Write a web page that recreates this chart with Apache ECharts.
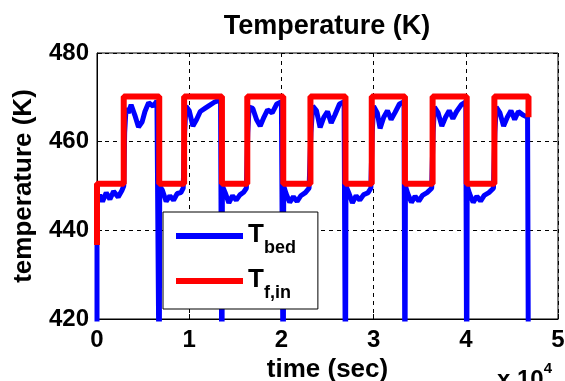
<!DOCTYPE html>
<html>
<head>
<meta charset="utf-8">
<script src="https://cdn.jsdelivr.net/npm/echarts@6/dist/echarts.min.js"></script>
<style>
  html, body { margin: 0; padding: 0; background: #fff; }
  #chart { width: 565px; height: 381px; }
</style>
</head>
<body>
<div id="chart"></div>
<script>
// x ticks in units of 1e4 s
const xTicks = [0, 1, 2, 3, 4, 5];
const yTicks = [420, 440, 460, 480];

// inlet fluid temperature, square wave [time s, K]
const tfIn = [
  [0, 436.7], [0, 450.5], [2900, 450.5], [2900, 470.2], [6750, 470.2], [6750, 450.5],
  [9450, 450.5], [9450, 470.2], [13550, 470.2], [13550, 450.5],
  [16300, 450.5], [16300, 470.2], [20200, 470.2], [20200, 450.5],
  [23150, 450.5], [23150, 470.2], [26950, 470.2], [26950, 450.5],
  [29800, 450.5], [29800, 470.2], [33400, 470.2], [33400, 450.5],
  [36400, 450.5], [36400, 470.2], [40100, 470.2], [40100, 450.5],
  [43100, 450.5], [43100, 470.2], [46800, 470.2], [46800, 465.5]
];

// bed temperature [time s, K]
const tBed = [
  [0, 405], [0, 446], [300, 448], [600, 446.5], [1000, 448.5], [1400, 447], [1800, 448.8], [2300, 447.5], [2700, 449], [2900, 450],
  [3000, 462], [3150, 467.5], [3400, 466.5], [3700, 468.3], [4100, 466], [4500, 463.3], [4900, 464.5], [5200, 466.8], [5600, 468.8], [6100, 468], [6500, 469.2], [6700, 469.5],
  [6750, 400], [6800, 450], [7100, 449], [7500, 446.5], [7900, 447.8], [8300, 446.8], [8700, 448.3], [9100, 448.5], [9350, 449.5],
  [9500, 462], [9650, 468], [10000, 467], [10400, 463.5], [10800, 465], [11200, 466.8], [11700, 467.5], [12200, 468.2], [12800, 469], [13400, 469.4],
  [13550, 400], [13600, 450], [13900, 448.5], [14300, 446.2], [14700, 447.8], [15100, 446.8], [15500, 448], [15900, 448.6], [16200, 449.5],
  [16350, 462], [16500, 467.8], [16900, 467.5], [17300, 465], [17700, 463.5], [18100, 465.5], [18500, 467.2], [19000, 466.5], [19500, 468.5], [20000, 469],
  [20200, 400], [20250, 450], [20500, 448.3], [20900, 446.3], [21300, 447.6], [21700, 446.5], [22100, 447.8], [22600, 448.5], [23000, 449.5],
  [23200, 462], [23400, 468], [23800, 467], [24200, 463.2], [24600, 465.5], [25000, 466.8], [25400, 464.2], [25800, 466], [26300, 468.5], [26800, 469],
  [26950, 400], [27000, 450], [27300, 448.5], [27700, 446.2], [28100, 447.8], [28500, 446.8], [28900, 448], [29400, 448.5], [29700, 449.5],
  [29850, 462], [30000, 468], [30400, 466.5], [30700, 463], [31100, 465.5], [31500, 467], [31900, 465], [32300, 466.5], [32800, 468.5], [33300, 469],
  [33400, 400], [33450, 450], [33700, 448.3], [34100, 446.3], [34500, 447.7], [34900, 446.6], [35300, 447.9], [35800, 448.5], [36300, 449.5],
  [36450, 462], [36600, 467.8], [37000, 466.5], [37400, 463.5], [37800, 465.5], [38200, 467], [38600, 465.2], [39000, 466.8], [39500, 468.3], [40000, 469],
  [40100, 400], [40150, 450], [40400, 448.3], [40800, 446.3], [41200, 447.7], [41600, 446.6], [42000, 447.9], [42500, 448.5], [43000, 449.5],
  [43150, 462], [43300, 467.8], [43700, 466.5], [44100, 463.5], [44500, 465.5], [44900, 467], [45300, 465], [45700, 466.8], [46200, 466], [46700, 465.5],
  [46800, 400]
];

const font = "'Liberation Sans', Arial, sans-serif";
const legendNames = { T_bed: "{t|T}{s|bed}", "T_f,in": "{t|T}{s|f,in}" };

const chart = echarts.init(document.getElementById("chart"));
chart.setOption({
  animation: false,
  textStyle: { fontFamily: font, color: "#000" },
  title: {
    text: "Temperature (K)",
    left: 322, top: 8, textAlign: "center",
    textStyle: { fontFamily: font, fontSize: 27, fontWeight: "bold", color: "#000" }
  },
  grid: {
    left: 97, right: 7, top: 53, bottom: 62,
    outerBoundsMode: "none",
    show: true, borderColor: "#000", borderWidth: 1, backgroundColor: "#fff"
  },
  legend: {
    orient: "vertical",
    left: 163, top: 212,
    padding: [10, 22, 7, 13],
    itemGap: 10,
    itemWidth: 67, itemHeight: 6,
    itemTextGap: 11,
    icon: "rect",
    backgroundColor: "#fff",
    borderColor: "#000", borderWidth: 1, borderRadius: 0,
    formatter: (n) => legendNames[n],
    textStyle: {
      fontFamily: font, color: "#000",
      rich: {
        t: { fontSize: 26, fontWeight: "bold", fontFamily: font, verticalAlign: "top", lineHeight: 28 },
        s: { fontSize: 18, fontWeight: "bold", fontFamily: font, verticalAlign: "top", lineHeight: 18, padding: [17, 0, 0, 0] }
      }
    },
    data: ["T_bed", "T_f,in"]
  },
  xAxis: {
    type: "value",
    min: 0, max: 50000, interval: 10000,
    name: "time (sec)",
    nameLocation: "middle", nameGap: 33,
    nameTextStyle: { fontFamily: font, fontSize: 26, fontWeight: "bold", color: "#000" },
    axisLine: { lineStyle: { color: "#000", width: 1 } },
    axisTick: { inside: true, length: 5, lineStyle: { color: "#000" } },
    axisLabel: {
      margin: 9, fontFamily: font, fontSize: 24, fontWeight: "bold", color: "#000",
      formatter: (v) => String(xTicks[Math.round(v / 10000)])
    },
    splitLine: { show: true, lineStyle: { color: "#000", type: [4, 4], width: 1 } }
  },
  yAxis: {
    type: "value",
    min: 420, max: 480, interval: 20,
    name: "temperature (K)",
    nameLocation: "middle", nameGap: 60,
    nameTextStyle: { fontFamily: font, fontSize: 26, fontWeight: "bold", color: "#000" },
    axisLine: { show: true, lineStyle: { color: "#000", width: 1 } },
    axisTick: { show: true, inside: true, length: 5, lineStyle: { color: "#000" } },
    axisLabel: {
      margin: 8, fontFamily: font, fontSize: 24, fontWeight: "bold", color: "#000",
      formatter: (v) => (yTicks.includes(v) ? String(v) : "")
    },
    splitLine: { show: true, lineStyle: { color: "#000", type: [4, 4], width: 1 } }
  },
  graphic: [{
    type: "text",
    left: 497, top: 361,
    style: {
      text: "{a|x 10}{b|4}",
      rich: {
        a: { fontSize: 24, fontWeight: "bold", fontFamily: font, fill: "#000", verticalAlign: "top", lineHeight: 24, padding: [7, 0, 0, 0] },
        b: { fontSize: 15, fontWeight: "bold", fontFamily: font, fill: "#000", verticalAlign: "top", lineHeight: 15 }
      }
    }
  }],
  series: [
    {
      name: "T_bed",
      type: "line",
      data: tBed,
      showSymbol: false,
      color: "#0000ff",
      lineStyle: { color: "#0000ff", width: 5 },
      z: 2
    },
    {
      name: "T_f,in",
      type: "line",
      data: tfIn,
      showSymbol: false,
      color: "#ff0000",
      lineStyle: { color: "#ff0000", width: 6 },
      z: 3
    }
  ]
});
</script>
</body>
</html>
